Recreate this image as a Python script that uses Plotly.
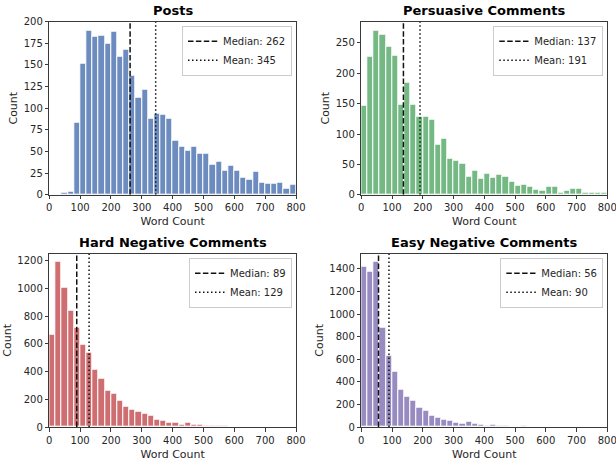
import plotly.graph_objects as go

BIN_WIDTH = 20
bin_starts = list(range(0, 800, 20))
bin_centers = [b + BIN_WIDTH / 2 for b in bin_starts]

titles = ["Posts", "Persuasive Comments", "Hard Negative Comments", "Easy Negative Comments"]

posts_counts = [0, 0, 2, 3, 83, 152, 190, 183, 184, 175, 189, 160, 168, 138, 112, 121, 88, 94, 93, 88,
                63, 55, 51, 56, 47, 47, 35, 38, 28, 34, 28, 20, 17, 27, 14, 13, 13, 14, 7, 11]
persuasive_counts = [146, 227, 271, 264, 243, 229, 149, 185, 149, 128, 128, 124, 82, 93, 60, 56, 51, 30, 39, 26,
                     35, 28, 33, 29, 22, 15, 17, 14, 9, 7, 13, 13, 3, 6, 10, 10, 3, 3, 3, 3]
hard_counts = [665, 1191, 1003, 836, 716, 595, 533, 417, 352, 265, 243, 188, 147, 128, 108, 94, 80, 56, 46, 34,
               34, 19, 34, 19, 14, 12, 10, 6, 6, 2, 4, 1, 1, 5, 1, 1, 1, 1, 1, 1]
easy_counts = [1420, 1373, 1462, 880, 629, 490, 334, 266, 230, 168, 142, 100, 80, 62, 59, 41, 30, 44, 30, 21,
               9, 21, 12, 9, 3, 2, 8, 2, 1, 1, 1, 1, 2, 1, 1, 1, 0, 0, 0, 0]

medians = [262, 137, 89, 56]
means = [345, 191, 129, 90]

series = [posts_counts, persuasive_counts, hard_counts, easy_counts]
colors = ["rgba(76,114,176,0.82)", "rgba(85,168,104,0.82)", "rgba(196,78,82,0.82)", "rgba(129,114,179,0.82)"]
y_dtick = [25, 50, 200, 200]
y_max = [200, 285, 1251, 1535]
x_ticks = [0, 100, 200, 300, 400, 500, 600, 700, 800]

W, H = 616, 462
# axes pixel boxes (left, right, top, bottom)
boxes = [(49.3, 296, 21.7, 194.7), (361.3, 607.3, 21.7, 194.7),
         (49.3, 296, 253.7, 427), (361.3, 607.3, 253.7, 427)]

FONT = "DejaVu Sans"
TXT = "#262626"
fig = go.Figure()
layout = dict(width=W, height=H, margin=dict(l=0, r=0, t=0, b=0, autoexpand=False),
              paper_bgcolor="white", plot_bgcolor="white",
              font=dict(family=FONT, size=10, color=TXT), showlegend=True,
              bargap=0, annotations=[])

for i in range(4):
    sfx = "" if i == 0 else str(i + 1)
    xa, ya = "x" + sfx, "y" + sfx
    lg = "legend" if i == 0 else "legend" + str(i + 1)
    counts = series[i]
    ymax = y_max[i]
    fig.add_trace(go.Bar(x=bin_centers, y=counts, width=BIN_WIDTH, xaxis=xa, yaxis=ya,
                         marker=dict(color=colors[i], line=dict(color="white", width=1)),
                         showlegend=False))
    fig.add_trace(go.Scatter(x=[medians[i], medians[i]], y=[0, ymax], mode="lines", xaxis=xa, yaxis=ya,
                             line=dict(color="#111111", width=1.5, dash="5.5px,2.4px"),
                             name=f"Median: {medians[i]}", legend=lg))
    fig.add_trace(go.Scatter(x=[means[i], means[i]], y=[0, ymax], mode="lines", xaxis=xa, yaxis=ya,
                             line=dict(color="#111111", width=1.5, dash="1.5px,2.5px"),
                             name=f"Mean: {means[i]}", legend=lg))
    l, r, t, b = boxes[i]
    axkey = "xaxis" + sfx
    aykey = "yaxis" + sfx
    layout[axkey] = dict(domain=[l / W, r / W], anchor=ya, range=[0, 800], tickvals=x_ticks,
                         automargin=False, ticklabeloverflow="allow",
                         showgrid=False, zeroline=False, showline=True, mirror=True,
                         linecolor="#3a3a3a", linewidth=1, ticks="outside", ticklen=3.5,
                         tickcolor="#3a3a3a", tickfont=dict(size=10, color=TXT),
                         title=dict(text="Word Count", font=dict(size=11, color=TXT), standoff=5))
    layout[aykey] = dict(domain=[1 - b / H, 1 - t / H], anchor=xa, range=[0, ymax], dtick=y_dtick[i],
                         tick0=0, automargin=False, ticklabeloverflow="allow",
                         showgrid=False, zeroline=False, showline=True, mirror=True,
                         linecolor="#3a3a3a", linewidth=1, ticks="outside", ticklen=3.5,
                         tickcolor="#3a3a3a", tickfont=dict(size=10, color=TXT),
                         title=dict(text="Count", font=dict(size=11, color=TXT), standoff=3))
    layout[lg] = dict(x=(r - 4) / W, y=1 - (t + 4) / H, xanchor="right", yanchor="top",
                      bgcolor="rgba(255,255,255,0.85)", bordercolor="#cccccc", borderwidth=1,
                      font=dict(size=10, color=TXT), itemwidth=30, tracegroupgap=0)
    layout["annotations"].append(dict(text=f"<b>{titles[i]}</b>", x=(l + r) / 2 / W, y=1 - (t - 11) / H,
                                      xref="paper", yref="paper", showarrow=False,
                                      xanchor="center", yanchor="middle",
                                      font=dict(family=FONT, size=13, color="black")))

fig.update_layout(**layout)
fig.write_html("out.html", config={"displayModeBar": False},
               post_script="document.body.style.margin='0';document.body.style.overflow='hidden';")
